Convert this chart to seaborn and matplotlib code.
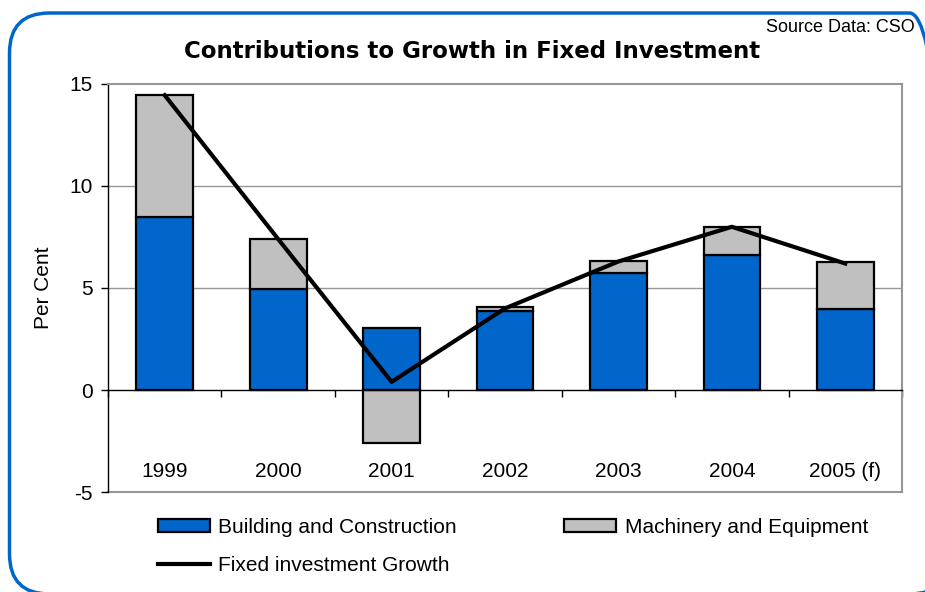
import numpy as np
import pandas as pd
import matplotlib
matplotlib.use("Agg")
import matplotlib.pyplot as plt
from matplotlib.patches import FancyBboxPatch, Patch
from matplotlib.lines import Line2D
import seaborn as sns

# Contributions to fixed investment growth (percentage points)
years = ["1999", "2000", "2001", "2002", "2003", "2004", "2005 (f)"]
building = [8.5, 4.95, 3.05, 3.85, 5.75, 6.6, 3.95]
machinery = [5.95, 2.45, -2.6, 0.2, 0.55, 1.4, 2.3]
growth = [14.45, 7.4, 0.4, 4.0, 6.3, 8.0, 6.2]

BLUE = "#0066CC"
GREY = "#C0C0C0"
GRID = "#969696"

plt.rcParams["font.family"] = ["Liberation Sans", "DejaVu Sans"]
plt.rcParams["axes.unicode_minus"] = False

df = pd.DataFrame({"year": years, "building": building,
                   "machinery": machinery, "growth": growth})
# negative contributions hang below zero, positive ones sit on top of building
mach_base = np.where(df["machinery"] >= 0, df["building"], 0.0)

fig = plt.figure(figsize=(9.25, 5.92), dpi=100)
ax = fig.add_axes([108 / 925, 1 - 492 / 592, 794 / 925, 408 / 592])

# rounded frame around the whole figure, running off the right-hand edge
frame = FancyBboxPatch((9.5, -2), 940, 581, boxstyle="round,pad=0,rounding_size=40",
                       transform=None, facecolor="none", edgecolor=BLUE,
                       linewidth=2.5, zorder=0)
fig.patches.append(frame)

for y in (5, 10):
    ax.axhline(y, color=GRID, linewidth=1, zorder=0)

sns.barplot(data=df, x="year", y="building", color=BLUE, width=0.5,
            edgecolor="black", linewidth=1.6, saturation=1, ax=ax, zorder=2)
sns.barplot(data=df, x="year", y="machinery", color=GREY, width=0.5,
            edgecolor="black", linewidth=1.6, saturation=1, ax=ax, zorder=2,
            bottom=mach_base)
sns.lineplot(data=df, x="year", y="growth", color="black", linewidth=3,
             sort=False, ax=ax, zorder=3)

ax.set_xlim(-0.5, 6.5)
ax.set_ylim(-5, 15)
ax.set_yticks([-5, 0, 5, 10, 15])
ax.tick_params(axis="y", direction="out", length=5, width=1, labelsize=15,
               pad=6, color="black")

# category axis on the zero line, labels down near the bottom of the plot
ax.spines["bottom"].set_position(("data", 0))
ax.spines["bottom"].set_color("black")
ax.spines["bottom"].set_linewidth(1)
ax.set_xticks(range(len(years)))
ax.set_xticklabels(years)
ax.set_xticks(np.arange(-0.5, len(years), 1.0), minor=True)
ax.tick_params(axis="x", which="major", length=0, labelsize=15, pad=52)
ax.tick_params(axis="x", which="minor", direction="out", length=5, width=1)
ax.axhline(-5, color=GRID, linewidth=1.5, clip_on=False, zorder=1)
for s in ("top", "right"):
    ax.spines[s].set_color(GRID)
    ax.spines[s].set_linewidth(1.5)
ax.spines["left"].set_color("black")
ax.spines["left"].set_linewidth(1)

ax.set_xlabel("")
ax.set_ylabel("Per Cent", fontsize=15, labelpad=12)

fig.text(472 / 925, 1 - 52 / 592, "Contributions to Growth in Fixed Investment",
         ha="center", va="center", fontsize=16.5, fontweight="bold",
         family="DejaVu Sans")
fig.text(915 / 925, 1 - 27 / 592, "Source Data: CSO", ha="right", va="center",
         fontsize=13)

handles = [
    Patch(facecolor=BLUE, edgecolor="black", linewidth=1.6),
    Line2D([], [], color="black", linewidth=3),
    Patch(facecolor=GREY, edgecolor="black", linewidth=1.6),
]
labels = ["Building and Construction", "Fixed investment Growth",
          "Machinery and Equipment"]
fig.legend(handles, labels, ncol=2, loc="center left",
           bbox_to_anchor=(158 / 925, 1 - 546.5 / 592), frameon=False,
           fontsize=15, handlelength=2.5, handleheight=0.55, handletextpad=0.4,
           columnspacing=5.15, labelspacing=0.92, borderpad=0, borderaxespad=0)

fig.savefig("out.png", dpi=100)
